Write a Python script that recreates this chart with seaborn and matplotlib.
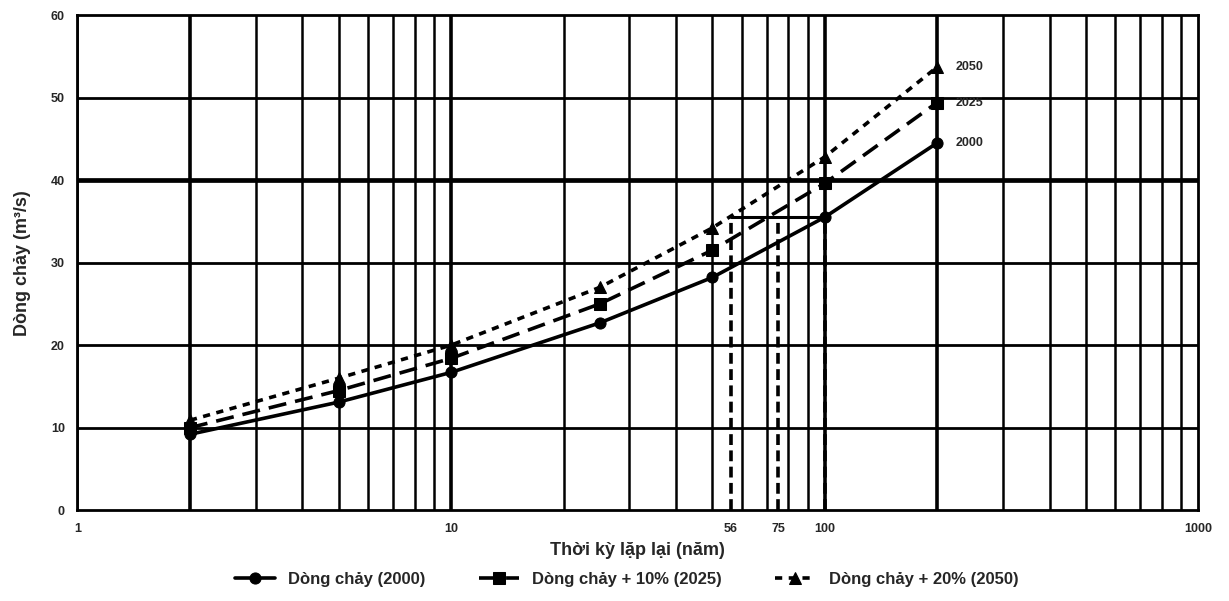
import numpy as np
import pandas as pd
import matplotlib
matplotlib.use("Agg")
import matplotlib.pyplot as plt
import seaborn as sns

# -------- Data --------
return_period = [2, 5, 10, 25, 50, 100, 200]
flow_2000 = [9.2, 13.1, 16.7, 22.7, 28.2, 35.5, 44.5]
flow_2025 = [10.0, 14.5, 18.4, 25.0, 31.5, 39.6, 49.4]
flow_2050 = [10.9, 16.0, 20.0, 27.0, 34.2, 42.8, 53.7]

series_names = ["Dòng chảy (2000)", "Dòng chảy + 10% (2025)", "Dòng chảy + 20% (2050)"]
end_labels = ["2000", "2025", "2050"]

# same 100-yr discharge reached at shorter return periods
ref_flow = 35.5
ref_periods = [56, 75, 100]
xtick_vals = [1, 10, 56, 75, 100, 1000]

df = pd.DataFrame({
    "T": return_period * 3,
    "Q": flow_2000 + flow_2025 + flow_2050,
    "series": np.repeat(series_names, len(return_period)),
})

# -------- Style --------
sns.set_style("white")
plt.rcParams["font.family"] = ["Liberation Sans", "DejaVu Sans"]
plt.rcParams["font.weight"] = "bold"

fig = plt.figure(figsize=(12.29, 6.01), dpi=100)
ax = fig.add_axes([0.063, 0.151, 0.912, 0.824])

ax.set_xscale("log")
ax.set_xlim(1, 1000)
ax.set_ylim(0, 60)

# grid, drawn by hand so thickness can vary
for dec in [1, 10, 100]:
    for m in range(1, 10):
        v = dec * m
        lw = 2.6 if v in (2, 10, 100, 200) else 1.8
        ax.axvline(v, color="black", lw=lw, zorder=1)
for yv in range(10, 60, 10):
    ax.axhline(yv, color="black", lw=3.4 if yv == 40 else 2.0, zorder=1)

# reference lines
for p in ref_periods:
    ax.plot([p, p], [0, ref_flow], color="black", lw=2.6, ls=(0, (3, 1.5)), zorder=2)
ax.plot([ref_periods[0], ref_periods[-1]], [ref_flow, ref_flow], color="black", lw=2.2, zorder=2)

sns.lineplot(
    data=df, x="T", y="Q", style="series", markers=["o", "s", "^"],
    dashes=["", (5, 2.5), (2, 1.8)], color="black", lw=2.6, markersize=8,
    markeredgecolor="black", ax=ax, zorder=3,
)

for lab, vals in zip(end_labels, [flow_2000, flow_2025, flow_2050]):
    ax.text(return_period[-1] * 1.12, vals[-1], lab, fontsize=9, fontweight="bold",
            va="center", ha="left")

for s in ax.spines.values():
    s.set_color("black")
    s.set_linewidth(2)

ax.set_xticks(xtick_vals)
ax.set_xticklabels([str(v) for v in xtick_vals])
ax.xaxis.set_minor_locator(matplotlib.ticker.NullLocator())
ax.set_yticks(range(0, 61, 10))
ax.tick_params(axis="both", labelsize=9, length=0, pad=9)
for t in ax.get_xticklabels() + ax.get_yticklabels():
    t.set_fontweight("bold")

ax.set_xlabel("Thời kỳ lặp lại (năm)", fontsize=13, fontweight="bold", labelpad=5)
ax.set_ylabel("Dòng chảy (m³/s)", fontsize=13, fontweight="bold", labelpad=14)

leg = ax.legend(loc="upper center", bbox_to_anchor=(0.49, -0.095), ncol=3, frameon=False,
                fontsize=12, handlelength=2.4, columnspacing=3.2, title=None)
for t in leg.get_texts():
    t.set_fontweight("bold")

fig.savefig("out.png", dpi=100)
